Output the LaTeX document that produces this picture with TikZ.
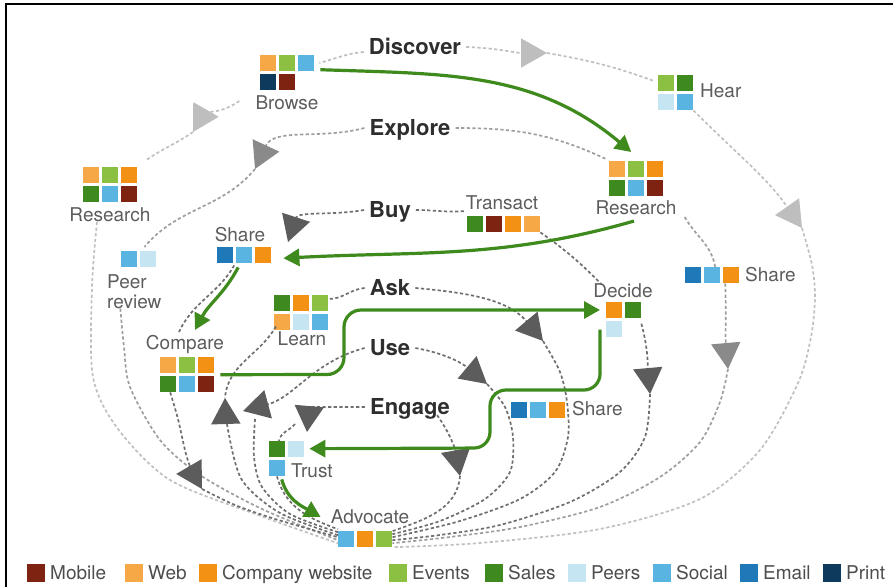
\documentclass[tikz,border=0pt]{standalone}
\usepackage{fontspec}
\setmainfont{TeX Gyre Heros}
\usetikzlibrary{arrows.meta}

% channel colours
\definecolor{mobile}{HTML}{7E2311}
\definecolor{web}{HTML}{F6A846}
\definecolor{company}{HTML}{F29113}
\definecolor{events}{HTML}{8CC043}
\definecolor{sales}{HTML}{3E8A1F}
\definecolor{peers}{HTML}{C6E5F2}
\definecolor{social}{HTML}{5AB4E2}
\definecolor{email}{HTML}{1F79B9}
\definecolor{print}{HTML}{0E3A5E}
% lines and text
\definecolor{journeygreen}{HTML}{3F8A1D}
\definecolor{lblgray}{HTML}{5C5C5C}
\definecolor{stagegray}{HTML}{2E2E2E}
\definecolor{leggray}{HTML}{4D4D4D}
\definecolor{dvline}{HTML}{C0C0C0}
\definecolor{dvarrow}{HTML}{BEBEBE}
\definecolor{exline}{HTML}{9E9E9E}
\definecolor{exarrow}{HTML}{8A8A8A}
\definecolor{midline}{HTML}{6E6E6E}
\definecolor{darkarrow}{HTML}{5C5C5C}

% one row of channel squares below/right of an anchor
\newcommand\tilerow[3]{%
  \foreach \tc [count=\i from 0] in {#3}
    \fill[\tc] (#1) ++(\i*19,#2) rectangle ++(16,-16);}

\begin{document}
\begin{tikzpicture}[x=1pt,y=1pt,
  grp/.style 2 args={rectangle,inner sep=0pt,minimum width=#1,minimum height=#2,anchor=north west},
  lbl/.style={inner sep=0pt,text height=13.7pt,text depth=0pt,text=lblgray,font=\fontsize{19}{20}\selectfont},
  stage/.style={inner xsep=5pt,inner ysep=0pt,text height=15.8pt,text depth=0pt,text=stagegray,font=\bfseries\fontsize{22}{24}\selectfont},
  trail/.style={draw=#1,line width=1.7pt,dash pattern=on 3.2pt off 2.4pt},
  loopend/.style={-{Triangle[length=26pt,width=29pt,color=#1]}},
  journey/.style={draw=journeygreen,line width=3.2pt,-{Triangle[length=16pt,width=17pt]}}]
  \useasboundingbox (0,0) rectangle (893,587);
  \draw[line width=2pt] (6,0) -- (6,583) -- (893,583);

  % channel groups
  \node[grp={54}{35}] (brT) at (260,532) {};
  \tilerow{brT.north west}{0}{web,events,social}
  \tilerow{brT.north west}{-19}{print,mobile}
  \node[grp={54}{35}] (rlT) at (83,420) {};
  \tilerow{rlT.north west}{0}{web,events,company}
  \tilerow{rlT.north west}{-19}{sales,social,mobile}
  \node[grp={35}{16}] (prT) at (121,336) {};
  \tilerow{prT.north west}{0}{social,peers}
  \node[grp={54}{16}] (slT) at (217,340) {};
  \tilerow{slT.north west}{0}{email,social,company}
  \node[grp={54}{35}] (cpT) at (160,230) {};
  \tilerow{cpT.north west}{0}{web,events,company}
  \tilerow{cpT.north west}{-19}{sales,social,mobile}
  \node[grp={54}{35}] (lnT) at (274,292) {};
  \tilerow{lnT.north west}{0}{sales,company,events}
  \tilerow{lnT.north west}{-19}{web,peers,social}
  \node[grp={35}{35}] (trT) at (269,146) {};
  \tilerow{trT.north west}{0}{sales,peers}
  \tilerow{trT.north west}{-19}{social}
  \node[grp={54}{16}] (adT) at (338,56) {};
  \tilerow{adT.north west}{0}{social,company,events}
  \node[grp={54}{35}] (rrT) at (609,426) {};
  \tilerow{rrT.north west}{0}{web,events,company}
  \tilerow{rrT.north west}{-19}{sales,social,mobile}
  \node[grp={35}{35}] (hrT) at (658,512) {};
  \tilerow{hrT.north west}{0}{events,sales}
  \tilerow{hrT.north west}{-19}{peers,social}
  \node[grp={73}{16}] (taT) at (467,371) {};
  \tilerow{taT.north west}{0}{sales,mobile,company,web}
  \node[grp={54}{16}] (srT) at (685,320) {};
  \tilerow{srT.north west}{0}{email,social,company}
  \node[grp={35}{35}] (dcT) at (606,285) {};
  \tilerow{dcT.north west}{0}{company,sales}
  \tilerow{dcT.north west}{-19}{peers}
  \node[grp={54}{16}] (smT) at (511,185) {};
  \tilerow{smT.north west}{0}{email,social,company}

  % touchpoint names
  \node[lbl] (brL) at (287,484) {Browse};
  \node[lbl] (rlL) at (110,372) {Research};
  \node[inner sep=0pt,text=lblgray,font=\fontsize{19}{20}\selectfont,
    anchor=north west,align=left] (prL) at (107,313) {Peer\\review};
  \node[lbl] (slL) at (240,352) {Share};
  \node[lbl] (cpL) at (185,244) {Compare};
  \node[lbl] (lnL) at (302,248) {Learn};
  \node[lbl,anchor=west] (trL) at (291,116) {Trust};
  \node[lbl] (adL) at (370,70) {Advocate};
  \node[lbl] (rrL) at (636,379) {Research};
  \node[lbl,anchor=west] (hrL) at (700,496) {Hear};
  \node[lbl] (taL) at (502,384) {Transact};
  \node[lbl,anchor=west] (srL) at (745,312) {Share};
  \node[lbl] (dcL) at (623,296) {Decide};
  \node[lbl,anchor=west] (smL) at (572,178) {Share};

  % stages
  \node[stage] (dvL) at (415,540) {Discover};
  \node[stage] (exL) at (410,459) {Explore};
  \node[stage] (byL) at (390,377) {Buy};
  \node[stage] (akL) at (390,299) {Ask};
  \node[stage] (usL) at (390,239) {Use};
  \node[stage] (egL) at (410,180) {Engage};

  % where the loop arrows sit
  \coordinate (dA1) at (193,455);
  \coordinate (dA2) at (547,534);
  \coordinate (dA3) at (802,359);
  \coordinate (eA1) at (255,418);
  \coordinate (eA2) at (728,218);
  \coordinate (bA1) at (288,345);
  \coordinate (bA2) at (202,98);
  \coordinate (bA3) at (650,193);
  \coordinate (aA1) at (225,189);
  \coordinate (aA2) at (543,246);
  \coordinate (uA1) at (243,176);
  \coordinate (uA2) at (487,203);
  \coordinate (nA1) at (307,155);
  \coordinate (nA2) at (460,111);

  % Discover loop
  \draw[trail=dvline] ([yshift=-5pt]dvL.west) to[out=185,in=15] ([shift={(5,-8)}]brT.north east);
  \draw[trail=dvline,loopend=dvarrow] ([shift={(-16,2)}]brL.west) to[out=215,in=60] (dA1);
  \draw[trail=dvline] (dA1) to[out=215,in=35] ([shift={(9,7)}]rlT.north east);
  \draw[trail=dvline] plot[smooth] coordinates {([xshift=-13pt]rlL.south) (92,300) (93,210) (118,158) (170,107) (258,72) ([yshift=-4pt]adT.west)};
  \draw[trail=dvline,loopend=dvarrow] (dvL.east) to[out=-2,in=180] (dA2);
  \draw[trail=dvline] (dA2) to[out=-10,in=160] ([shift={(-4,-6)}]hrT.north west);
  \draw[trail=dvline,loopend=dvarrow] (hrT.south east) to[out=-45,in=125] (dA3);
  \draw[trail=dvline] plot[smooth] coordinates {(dA3) (812,322) (815,290) (811,250) (798,204) (760,137) (700,88) (600,58) (480,44) ([yshift=-8pt]adT.east)};

  % Explore loop
  \draw[trail=exline,loopend=exarrow] (exL.west) to[out=195,in=65] (eA1);
  \draw[trail=exline] (eA1) to[out=230,in=50] ([shift={(-12,4)}]prT.north east);
  \draw[trail=exline] plot[smooth] coordinates {([xshift=-14pt]prL.south) (124,240) (130,200) (160,147) (200,112) (262,78) ([yshift=-1pt]adT.west)};
  \draw[trail=exline] (exL.east) to[out=0,in=155] ([shift={(-3,2)}]rrT.north west);
  \draw[trail=exline] ([shift={(8,-2)}]rrL.south east) to[out=-60,in=100] ([xshift=3pt]srT.north);
  \draw[trail=exline,loopend=exarrow] ([xshift=13pt]srT.south) to[out=-88,in=95] (eA2);
  \draw[trail=exline] plot[smooth] coordinates {(eA2) (720,185) (700,145) (660,110) (600,80) (520,60) (450,50) ([yshift=-4pt]adT.east)};

  % Buy loop
  \draw[trail=midline,loopend=darkarrow] (byL.west) to[out=190,in=72] (bA1);
  \draw[trail=midline] ([shift={(-10,-2)}]slT.south) to[out=-120,in=65] ([shift={(-6,4)}]cpL.north);
  \draw[trail=midline,loopend=darkarrow] plot[smooth] coordinates {([xshift=-17pt]cpT.south) (178,168) (188,126) (bA2)};
  \draw[trail=midline] plot[smooth] coordinates {(bA2) (235,82) (275,68) ([yshift=2pt]adT.west)};
  \draw[trail=midline] (byL.east) to[out=0,in=185] ([yshift=-8pt]taL.west);
  \draw[trail=midline] (taT.south east) to[out=-35,in=135] ([xshift=8pt]dcL.north west);
  \draw[trail=midline,loopend=darkarrow] ([yshift=-4pt]dcT.east) to[out=-75,in=95] (bA3);
  \draw[trail=midline] plot[smooth] coordinates {(bA3) (645,150) (620,115) (570,85) (500,62) (440,52) ([yshift=-1pt]adT.east)};

  % Ask loop
  \draw[trail=midline] (akL.west) to[out=185,in=0] ([yshift=-4pt]lnT.north east);
  \draw[trail=midline] ([shift={(2,4)}]lnT.south west) to[out=240,in=85] (aA1);
  \draw[trail=midline,loopend=darkarrow] plot[smooth] coordinates {([yshift=4pt]adT.west) (280,74) (242,107) (228,157) (aA1)};
  \draw[trail=midline,loopend=darkarrow] (akL.east) to[out=-5,in=130] (aA2);
  \draw[trail=midline] plot[smooth] coordinates {(aA2) (560,215) (567,185) (568,150) (555,115) (520,88) (460,66) ([yshift=2pt]adT.east)};

  % Use loop
  \draw[trail=midline,loopend=darkarrow] (usL.west) to[out=195,in=15] (uA1);
  \draw[trail=midline] plot[smooth] coordinates {([shift={(12,-8)}]uA1) (254,130) (262,100) (290,73) ([yshift=7pt]adT.west)};
  \draw[trail=midline,loopend=darkarrow] (usL.east) to[out=-10,in=140] (uA2);
  \draw[trail=midline] plot[smooth] coordinates {(uA2) (505,180) (513,150) (510,115) (485,88) (440,66) ([yshift=5pt]adT.east)};

  % Engage loop
  \draw[trail=midline,loopend=darkarrow] (egL.west) to[out=180,in=85] (nA1);
  \draw[trail=midline] ([shift={(-12,8)}]nA1) to[out=230,in=80] ([xshift=10pt]trT.north west);
  \draw[trail=midline] ([xshift=8pt]trT.south west) to[out=-75,in=160] ([yshift=10pt]adT.west);
  \draw[trail=midline,loopend=darkarrow] ([xshift=-18pt]egL.south east) to[out=-55,in=100] (nA2);
  \draw[trail=midline] (nA2) to[out=-95,in=20] ([yshift=8pt]adT.east);

  % the journey
  \draw[journey] ([shift={(6,3)}]brT.east) to[out=-2,in=140] ([shift={(-5,9)}]rrT.north);
  \draw[journey] ([shift={(-2,-6)}]rrL.south) to[out=196,in=3] ([shift={(12,-3)}]slT.east);
  \draw[journey] ([shift={(-6,-4)}]slT.south) to[out=-118,in=62] ([shift={(10,6)}]cpL.north);
  \draw[journey,rounded corners=17pt] ([xshift=6pt]cpT.east) -- (344,212.5) -- (344,277) -- ([shift={(-6,-8)}]dcT.north west);
  \draw[journey,rounded corners=16pt] ([shift={(-6,-10)}]dcT.west) -- (600,197) -- (490,197) -- (490,139) -- ([shift={(5,10)}]trT.east);
  \draw[journey] ([shift={(-5,-3)}]trT.south) to[out=-75,in=150] ([xshift=-10pt]adL.west);

  % key
  \foreach \x/\tc/\txt in {27/mobile/Mobile,125/web/Web,199/company/Company website,389/events/Events,485/sales/Sales,568/peers/Peers,653/social/Social,740/email/Email,823/print/Print}{
    \fill[\tc] (\x,5) rectangle ++(18,18);
    \node[lbl,text=leggray,anchor=west] (key\tc) at (\x+23,14) {\txt};
  }
\end{tikzpicture}
\end{document}
